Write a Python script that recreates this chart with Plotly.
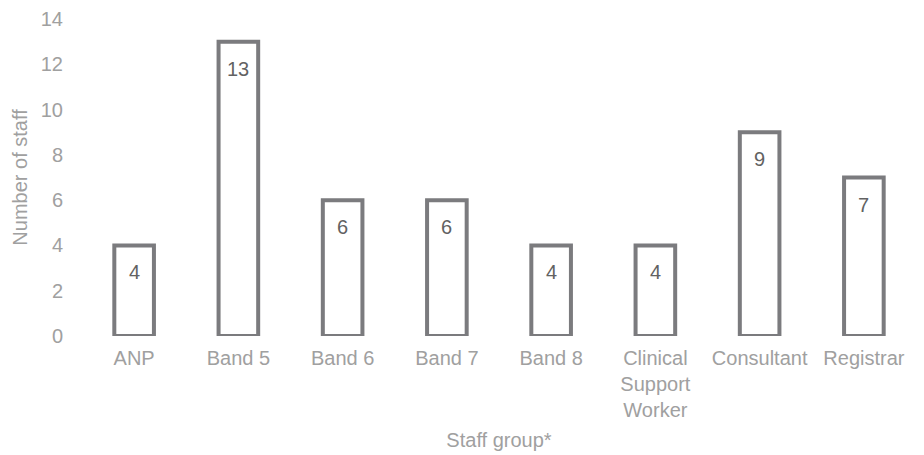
import plotly.graph_objects as go

categories = ["ANP", "Band 5", "Band 6", "Band 7", "Band 8",
              "Clinical<br>Support<br>Worker", "Consultant", "Registrar"]
values = [4, 13, 6, 6, 4, 4, 9, 7]
y_ticks = [0, 2, 4, 6, 8, 10, 12, 14]

FONT = "Liberation Sans, Arial"
fig = go.Figure()
fig.add_trace(go.Bar(
    x=categories, y=values, width=0.38,
    marker=dict(color="white", line=dict(color="#7b7b7e", width=4)),
    hoverinfo="x+y",
))
for c, v in zip(categories, values):
    fig.add_annotation(x=c, y=v, yshift=-27, text=str(v), showarrow=False,
                       font=dict(family=FONT, size=20, color="#626262"))

fig.update_layout(
    width=924, height=455,
    margin=dict(l=82, r=8, t=19, b=119),
    plot_bgcolor="white", paper_bgcolor="white",
    showlegend=False,
    font=dict(family=FONT, size=20, color="#a0a0a0"),
)
fig.update_xaxes(
    title=dict(text="Staff group*", standoff=12, font=dict(size=20, color="#a0a0a0")),
    showline=False, showgrid=False, ticks="", ticklabelstandoff=8,
    tickfont=dict(size=20, color="#a0a0a0"),
)
fig.update_yaxes(
    title=dict(text="Number of staff", standoff=7, font=dict(size=20, color="#a0a0a0")),
    range=[0, 14], tickvals=y_ticks, showgrid=False, zeroline=False, showline=False,
    ticks="", ticklabelstandoff=18, tickfont=dict(size=20, color="#a0a0a0"),
)
fig.write_html("out.html")
